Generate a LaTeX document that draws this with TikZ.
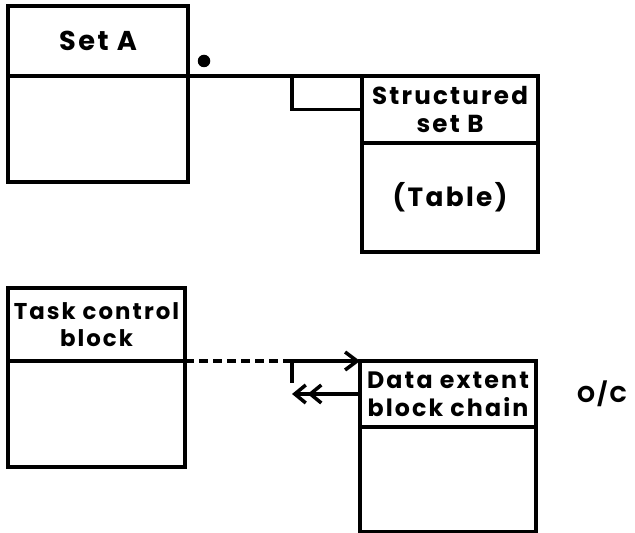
\documentclass[tikz,border=0pt]{standalone}
\usepackage{fontspec}
\setmainfont{Poppins}[LetterSpace=9]
\usetikzlibrary{arrows.meta,positioning,calc}

\begin{document}
\begin{tikzpicture}[
  box/.style={rectangle, draw, line width=2pt, outer sep=0pt, inner sep=0pt,
    align=center},
  head/.style={box, font=\bfseries\fontsize{13}{15.5}\selectfont},
  link/.style={line width=2pt},
  ptr/.style={link, -{Straight Barb[length=2.4mm, width=3.6mm]}},
  backptr/.style={link,
    {Straight Barb[length=2.2mm, width=3.6mm] Straight Barb[length=2.2mm, width=3.6mm]}-},
  dot/.style={circle, fill, inner sep=0pt, minimum size=0.25cm},
  >=Stealth
]
\useasboundingbox (0,0) rectangle (12.7,-10.66);

% Set A and structured set B
\node[head, minimum width=3.6cm, minimum height=1.4cm, anchor=north west,
  font=\bfseries\fontsize{15.5}{18}\selectfont] (setahead) at (0.16,-0.12) {Set A};
\node[box, minimum width=3.6cm, minimum height=2.12cm, below=0cm of setahead] (setabody) {};

\node[head, minimum width=3.52cm, minimum height=1.34cm,
  below right=0cm and 3.48cm of setahead.south east,
  font=\bfseries\fontsize{14}{16.5}\selectfont] (setbhead) {Structured\\set B};
\node[box, minimum width=3.52cm, minimum height=2.18cm, below=0cm of setbhead,
  font=\bfseries\fontsize{15}{17}\selectfont] (setbbody) {(Table)};

\node[dot] (mark) at ($(setahead.south east)+(0.32,0.3)$) {};

\draw[link] (setahead.south east) -- (setbhead.north west);
\draw[link] (setbhead.west) -| ($(setbhead.north west)+(-1.4,0)$);

% Task control block and data extent block chain
\node[head, minimum width=3.54cm, minimum height=1.46cm,
  below=2.12cm of setabody.south west, anchor=north west] (tcbhead) {Task control\\block};
\node[box, minimum width=3.54cm, minimum height=2.12cm, below=0cm of tcbhead] (tcbbody) {};

\node[head, minimum width=3.52cm, minimum height=1.32cm,
  below right=0cm and 3.5cm of tcbhead.south east,
  font=\bfseries\fontsize{13.5}{16}\selectfont] (debhead) {Data extent\\block chain};
\node[box, minimum width=3.52cm, minimum height=2.1cm, below=0cm of debhead] (debbody) {};

\node[right=0.7cm of debhead, font=\bfseries\fontsize{13}{15}\selectfont] (oc) {O/C};

\coordinate (turn) at ($(debhead.north west)+(-1.36,0)$);

\draw[link, dash pattern=on 0.17cm off 0.11cm] (tcbhead.south east) -- (turn);
\draw[ptr] (turn) -- (debhead.north west);
\draw[link] (turn) -- ++(0,-0.44);
\draw[backptr] (turn |- debhead.west) -- (debhead.west);

\end{tikzpicture}
\end{document}
